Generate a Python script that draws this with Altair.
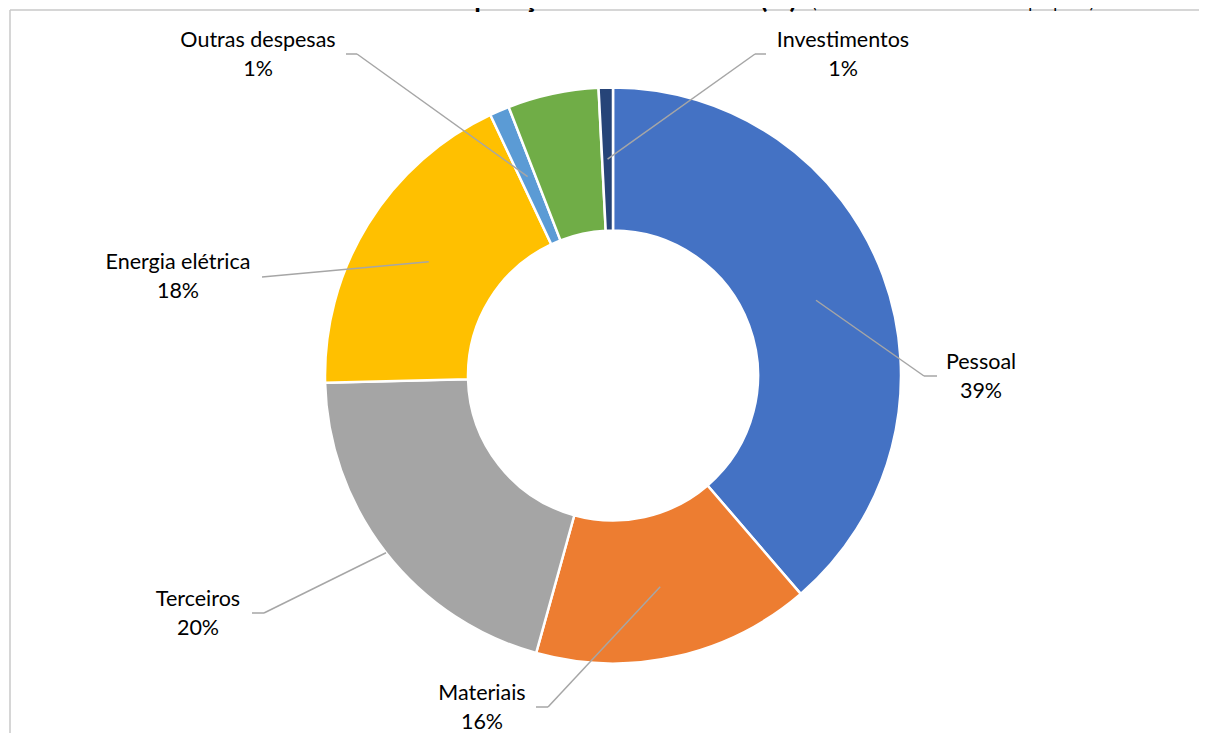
import altair as alt
import pandas as pd

# ---- data ----
categories = ["Pessoal", "Materiais", "Terceiros", "Energia elétrica",
              "Outras despesas", "Outros", "Investimentos"]
values = [38.7, 15.6, 20.3, 18.4, 1.1, 5.1, 0.8]
colors = ["#4472C4", "#ED7D31", "#A5A5A5", "#FFC000",
          "#5B9BD5", "#70AD47", "#264478"]
show_label = [True, True, True, True, True, False, True]

title_main = "Gráfico 188-11 – Composição total de Gastos (%)"
title_sub = "(investimentos com recursos próprios)"

# ---- layout (pixels of the chart frame) ----
W, H = 1191, 725
CX, CY = 605, 367.5
R_OUT, R_IN = 288, 145
R_MID = (R_OUT + R_IN) / 2

# label centre (lx, ly), leader end (ex, ey), elbow x-offset (kx), leader start radius (rs)
label_layout = {
    "Pessoal":          dict(lx=973, ly=369.5, ex=929, ey=368, kx=-13, rs=R_MID),
    "Materiais":        dict(lx=474, ly=700.0, ex=528, ey=699, kx=12, rs=R_MID),
    "Terceiros":        dict(lx=190, ly=606.5, ex=244, ey=605, kx=12, rs=R_OUT),
    "Energia elétrica": dict(lx=170, ly=269.5, ex=254, ey=269, kx=0, rs=R_MID),
    "Outras despesas":  dict(lx=250, ly=47.5, ex=338, ey=46, kx=11, rs=R_MID),
    "Investimentos":    dict(lx=835, ly=47.5, ex=758, ey=46, kx=-11, rs=R_MID),
    "Outros":           dict(lx=0, ly=0, ex=0, ey=0, kx=0, rs=R_MID),
}

rows = []
for i, (c, v, s) in enumerate(zip(categories, values, show_label)):
    d = dict(category=c, value=v, ord=i, show=s)
    d.update(label_layout[c])
    rows.append(d)
df = pd.DataFrame(rows)

FONT = "Lato"
LINE_COLOR = "#A6A6A6"

xs = alt.Scale(domain=[0, W], range=[0, W])
ys = alt.Scale(domain=[0, H], range=[0, H])

pie = alt.Chart(df).mark_arc(
    outerRadius=R_OUT, innerRadius=R_IN, stroke="white", strokeWidth=2.5
).encode(
    theta=alt.Theta("value:Q", stack=True),
    color=alt.Color("category:N", scale=alt.Scale(domain=categories, range=colors), legend=None),
    order=alt.Order("ord:Q"),
    x=alt.value(CX),
    y=alt.value(CY),
)

calc = alt.Chart(df).transform_joinaggregate(
    total="sum(value)"
).transform_window(
    cum="sum(value)", sort=[alt.SortField("ord")], frame=[None, 0]
).transform_calculate(
    mid="(datum.cum - datum.value/2) / datum.total * 2 * PI",
    pct="datum.value / datum.total",
).transform_calculate(
    sx=f"{CX} + datum.rs * sin(datum.mid)",
    sy=f"{CY} - datum.rs * cos(datum.mid)",
    kxp="datum.ex + datum.kx",
).transform_filter("datum.show")

lead1 = calc.mark_rule(color=LINE_COLOR, strokeWidth=1.5).encode(
    x=alt.X("sx:Q", scale=xs, axis=None),
    y=alt.Y("sy:Q", scale=ys, axis=None),
    x2="kxp:Q",
    y2="ey:Q",
)
lead2 = calc.mark_rule(color=LINE_COLOR, strokeWidth=1.5).encode(
    x=alt.X("kxp:Q", scale=xs, axis=None),
    y=alt.Y("ey:Q", scale=ys, axis=None),
    x2="ex:Q",
    y2="ey:Q",
)

name_txt = calc.mark_text(font=FONT, fontSize=21.5, color="#000000", dy=-14.5,
                          align="center", baseline="middle").encode(
    x=alt.X("lx:Q", scale=xs, axis=None),
    y=alt.Y("ly:Q", scale=ys, axis=None),
    text="category:N",
)
pct_txt = calc.mark_text(font=FONT, fontSize=21.5, color="#000000", dy=14.5,
                         align="center", baseline="middle").encode(
    x=alt.X("lx:Q", scale=xs, axis=None),
    y=alt.Y("ly:Q", scale=ys, axis=None),
    text=alt.Text("pct:Q", format=".0%"),
)

tdf = pd.DataFrame({"t": [title_main], "s": [title_sub]})
title1 = alt.Chart(tdf).mark_text(font=FONT, fontSize=27, fontWeight="bold", color="#000000",
                                  align="right", baseline="alphabetic").encode(
    x=alt.value(789), y=alt.value(-0.5), text="t:N")
title2 = alt.Chart(tdf).mark_text(font=FONT, fontSize=17, color="#000000",
                                  align="left", baseline="alphabetic").encode(
    x=alt.value(804), y=alt.value(-0.5), text="s:N")

border_h = alt.Chart(tdf).mark_rule(color="#C8C8C8", strokeWidth=1.5).encode(
    x=alt.value(2), x2=alt.value(W), y=alt.value(2))
border_v = alt.Chart(tdf).mark_rule(color="#C8C8C8", strokeWidth=1.5).encode(
    x=alt.value(2), y=alt.value(2), y2=alt.value(H))

chart = alt.layer(
    border_h, border_v, pie, lead1, lead2, name_txt, pct_txt, title1, title2
).properties(
    width=W, height=H, padding=0, autosize="none"
).configure_view(stroke=None)

chart.save("out.html", embed_options={"renderer": "svg", "actions": False})
